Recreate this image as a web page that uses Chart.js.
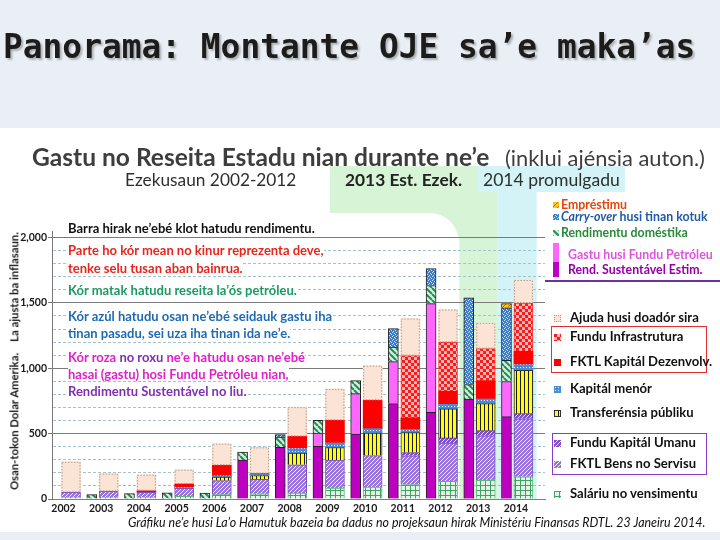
<!DOCTYPE html>
<html lang="tet">
<head>
<meta charset="UTF-8">
<title>Panorama: Montante OJE sa’e maka’as</title>
<script src="https://cdn.jsdelivr.net/npm/chart.js"></script>
<style>
  body { margin: 0; width: 720px; height: 540px; overflow: hidden; position: relative;
         background: #e9eff4; font-family: Lato, "Open Sans", sans-serif; }
  #panel { position: absolute; left: 0; top: 128px; width: 720px; height: 404px; background: #fff; }
  #wrap { position: absolute; left: 0; top: 0; width: 720px; height: 540px; }
  .t { position: absolute; white-space: nowrap; line-height: 1; transform: translateY(-50%); }
  .note { background: #fff; font-weight: bold; }
  .ico { position: absolute; width: 7px; height: 7px; }
  .box { position: absolute; box-sizing: border-box; border: 1.5px solid; }
</style>
</head>
<body>
<div id="panel"></div>
<div id="wrap"><canvas id="chart"></canvas></div>
<div id="texts"></div>

<script>
  // values, US$ millions
  const years = [2002, 2003, 2004, 2005, 2006, 2007, 2008, 2009, 2010, 2011, 2012, 2013, 2014];

  // expenditure bar, bottom to top
  const salary    = [15, 15, 15, 20, 33, 40, 46, 84, 92, 110, 135, 143, 170];
  const goods     = [36, 44, 36, 62, 107, 110, 216, 214, 240, 220, 292, 340, 443];
  const hcdf      = [null, null, null, null, null, null, null, null, null, 25, 40, 40, 40];
  const transfers = [null, null, null, null, 28, 30, 90, 96, 173, 153, 223, 207, 332];
  const minorCap  = [null, null, null, 6, 10, 8, 34, 34, 33, 23, 34, 35, 43];
  const devCap    = [null, null, 12, 27, 80, 7, 93, 174, 217, 89, 100, 141, 102];
  const infra     = [null, null, null, null, null, null, null, null, null, 477, 375, 244, 369];
  const donors    = [234, 135, 123, 109, 165, 200, 224, 240, 265, 283, 250, 197, 176];

  // revenue bar, bottom to top
  const esi       = [null, null, null, null, null, 298, 395, 402, 497, 730, 663, 765, 630];
  const excess    = [null, null, null, null, null, null, null, 103, 309, 321, 832, null, 269];
  const domestic  = [null, 33, 41, 48, 46, 60, 79, 96, 100, 112, 138, 110, 162];
  const carryOver = [null, null, null, null, null, null, 18, null, null, 141, 130, 663, 401];
  const loans     = [null, null, null, null, null, null, null, null, null, null, null, null, 32];

  const yTickValues = [0, 500, 1000, 1500, 2000];
  const yTickLabels = ['0', '500', '1,000', '1,500', '2,000'];

  const REV_OFF = -0.25, EXP_OFF = 0.2;

  const canvas = document.getElementById('chart');
  const cctx = canvas.getContext('2d');

  // small tiles for the hatched fills
  function tile(w, h, draw) {
    const c = document.createElement('canvas');
    c.width = w; c.height = h;
    draw(c.getContext('2d'));
    return { pattern: cctx.createPattern(c, 'repeat'), url: c.toDataURL() };
  }
  const pSalary = tile(5, 5, g => {
    g.fillStyle = '#e2f5e7'; g.fillRect(0, 0, 5, 5);
    g.fillStyle = '#3fa360'; g.fillRect(0, 0, 5, 1); g.fillRect(0, 0, 1, 5);
  });
  const pGoods = tile(4, 4, g => {
    g.fillStyle = '#9a74d8'; g.fillRect(0, 0, 4, 4);
    g.fillStyle = '#f3eefc';
    [[1,0],[0,1],[3,2],[2,3]].forEach(([x, y]) => g.fillRect(x, y, 1, 1));
  });
  const pHcdf = tile(4, 4, g => {
    g.fillStyle = '#8050c4'; g.fillRect(0, 0, 4, 4);
    g.fillStyle = '#e8dcf8';
    [[3,0],[2,1],[1,2],[0,3]].forEach(([x, y]) => g.fillRect(x, y, 1, 1));
  });
  const pTransfer = tile(4, 1, g => {
    g.fillStyle = '#ffff00'; g.fillRect(0, 0, 4, 1);
    g.fillStyle = '#1a1a1a'; g.fillRect(0, 0, 1, 1);
  });
  const pMinor = tile(3, 3, g => {
    g.fillStyle = '#4a8cd6'; g.fillRect(0, 0, 3, 3);
    g.fillStyle = '#e8f2fc'; g.fillRect(1, 1, 1, 1);
  });
  const pInfra = tile(6, 6, g => {
    g.fillStyle = '#ffb8b8'; g.fillRect(0, 0, 6, 6);
    g.fillStyle = '#ff1a1a'; g.fillRect(0, 0, 3, 3); g.fillRect(3, 3, 3, 3);
  });
  const pDomestic = tile(6, 6, g => {
    g.fillStyle = '#d6f0de'; g.fillRect(0, 0, 6, 6);
    g.strokeStyle = '#1f8f50'; g.lineWidth = 2;
    [-6, 0, 6].forEach(k => { g.beginPath(); g.moveTo(k, 0); g.lineTo(k + 6, 6); g.stroke(); });
  });
  const pCarry = tile(4, 4, g => {
    g.fillStyle = '#3b7ccb'; g.fillRect(0, 0, 4, 4);
    g.fillStyle = '#cfe3f8';
    [[0,0],[2,1],[1,3],[3,2]].forEach(([x, y]) => g.fillRect(x, y, 1, 1));
  });
  const pLoan = tile(5, 5, g => {
    g.fillStyle = '#ffc61a'; g.fillRect(0, 0, 5, 5);
    g.strokeStyle = '#b87800'; g.lineWidth = 1;
    [-5, 0, 5].forEach(k => { g.beginPath(); g.moveTo(k, 5); g.lineTo(k + 5, 0); g.stroke(); });
  });

  const ESI_COL = '#c000c0', EXCESS_COL = '#ff66ff', DEV_COL = '#ff0000', DONOR_COL = '#fbe4d5';

  function bars(label, values, offset, thick, fill, border) {
    return {
      label,
      data: years.map((yr, i) => ({ x: yr + offset, y: values[i] })),
      backgroundColor: fill,
      borderColor: border || 'rgba(0,0,0,0)',
      borderWidth: border ? 1 : 0,
      barThickness: thick
    };
  }

  const datasets = [
    bars('Saláriu no vensimentu', salary, EXP_OFF, 19, pSalary.pattern, '#5cb87a'),
    bars('FKTL Bens no Servisu', goods, EXP_OFF, 19, pGoods.pattern, '#7d4fc6'),
    bars('Fundu Kapitál Umanu', hcdf, EXP_OFF, 19, pHcdf.pattern, '#5f2ea8'),
    bars('Transferénsia públiku', transfers, EXP_OFF, 19, pTransfer.pattern, '#333'),
    bars('Kapitál menór', minorCap, EXP_OFF, 19, pMinor.pattern),
    bars('FKTL Kapitál Dezenvolv.', devCap, EXP_OFF, 19, DEV_COL),
    bars('Fundu Infrastrutura', infra, EXP_OFF, 19, pInfra.pattern, '#ff3030'),
    bars('Ajuda husi doadór sira', donors, EXP_OFF, 19, DONOR_COL),
    bars('Rend. Sustentável Estim.', esi, REV_OFF, 10, ESI_COL, '#222'),
    bars('Gastu husi Fundu Petróleu', excess, REV_OFF, 10, EXCESS_COL, '#222'),
    bars('Rendimentu doméstika', domestic, REV_OFF, 10, pDomestic.pattern, '#222'),
    bars('Carry-over husi tinan kotuk', carryOver, REV_OFF, 10, pCarry.pattern, '#222'),
    bars('Empréstimu', loans, REV_OFF, 10, pLoan.pattern, '#222')
  ];

  // light green / cyan bands behind 2013 and 2014
  const bands = {
    id: 'bands',
    beforeDraw(chart) {
      const { ctx, chartArea: a } = chart;
      const x = chart.scales.x;
      const l13 = x.getPixelForValue(2012.5), r13 = x.getPixelForValue(2013.52), r14 = x.getPixelForValue(2014.55);
      ctx.save();
      ctx.fillStyle = '#d8f4d6';
      ctx.beginPath();
      ctx.moveTo(330, 166); ctx.lineTo(478, 166); ctx.lineTo(478, 192); ctx.lineTo(r13, 192);
      ctx.lineTo(r13, a.bottom); ctx.lineTo(l13, a.bottom); ctx.lineTo(l13, 240);
      ctx.quadraticCurveTo(l13 - 6, 214, 430, 213); ctx.lineTo(330, 213);
      ctx.closePath(); ctx.fill();
      ctx.fillStyle = '#d3f3f7';
      ctx.fillRect(478, 166, 147, 26);
      ctx.fillRect(r13, 192, r14 - r13, a.bottom - 192);
      ctx.restore();
    }
  };

  // dotted outline round the donor segments
  const dottedDonors = {
    id: 'dottedDonors',
    afterDatasetsDraw(chart) {
      const i = chart.data.datasets.findIndex(d => d.label === 'Ajuda husi doadór sira');
      const ctx = chart.ctx;
      ctx.save();
      ctx.setLineDash([1.5, 1.5]);
      ctx.strokeStyle = '#b49c8a';
      ctx.lineWidth = 1;
      chart.getDatasetMeta(i).data.forEach(bar => {
        const { x, y, base, width } = bar.getProps(['x', 'y', 'base', 'width'], true);
        if (!isFinite(y)) return;
        ctx.strokeRect(x - width / 2 + 0.5, y + 0.5, width - 1, base - y - 1);
      });
      ctx.restore();
    }
  };

  const gridValues = [];
  for (let v = 0; v <= 2000; v += 100) gridValues.push(v);
  const major = v => v % 500 === 0;

  Chart.defaults.font.family = 'Lato';
  new Chart(canvas, {
    type: 'bar',
    data: { datasets },
    plugins: [bands, dottedDonors],
    options: {
      responsive: true,
      maintainAspectRatio: false,
      animation: false,
      layout: { padding: { left: 0, top: 231, right: 175, bottom: 0 } },
      plugins: { legend: { display: false }, tooltip: { enabled: false } },
      scales: {
        x: {
          type: 'linear',
          min: 2001.695,
          max: 2014.772,
          offset: false,
          stacked: true,
          grid: { display: false, drawTicks: false, offset: false },
          border: { display: true, color: '#7f7f7f' },
          afterBuildTicks: s => { s.ticks = years.map(v => ({ value: v })); },
          afterFit: s => { s.height = 41; },
          ticks: {
            autoSkip: false, maxRotation: 0, padding: 3, color: '#1a1a1a',
            font: { size: 10.5, weight: 'bold' },
            callback: v => String(v)
          }
        },
        y: {
          min: 0,
          max: 2050,
          stacked: true,
          afterBuildTicks: s => { s.ticks = gridValues.map(v => ({ value: v })); },
          afterFit: s => { s.width = 52; },
          grid: {
            color: c => major(c.tick.value) ? '#7a7a7a' : '#a3c4cf',
            tickColor: c => major(c.tick.value) ? '#7a7a7a' : 'rgba(0,0,0,0)',
            tickLength: 4,
            lineWidth: 1
          },
          border: {
            display: true, color: '#7a7a7a',
            dash: c => (c.tick && !major(c.tick.value)) ? [3, 2] : []
          },
          ticks: {
            autoSkip: false, padding: 1, color: '#1a1a1a',
            font: { size: 10.5, weight: 'bold' },
            callback: v => { const k = yTickValues.indexOf(v); return k < 0 ? '' : yTickLabels[k]; }
          }
        }
      }
    }
  });

  // ---- text laid over the canvas ----
  const texts = document.getElementById('texts');
  function put(html, left, cy, size, style) {
    const d = document.createElement('div');
    d.className = 't';
    d.innerHTML = html;
    Object.assign(d.style, { left: left + 'px', top: cy + 'px', fontSize: size + 'px' }, style || {});
    texts.appendChild(d);
    return d;
  }
  function fitSize(html, width, style) {
    const d = put(html, 0, -100, 20, style);
    const s = 20 * width / d.offsetWidth;
    d.remove();
    return s;
  }
  function fit(html, left, cy, width, style) {
    return put(html, left, cy, fitSize(html, width, style), style);
  }

  fit('Panorama: Montante OJE sa’e maka’as', 3, 47, 692, {
    fontFamily: '"DejaVu Sans Mono", monospace', fontWeight: 'bold', color: '#1c1c1c',
    textShadow: '2px 2px 2px rgba(0,0,0,0.25)'
  });
  fit('Gastu no Reseita Estadu nian durante ne’e', 32, 157, 458, { fontWeight: 'bold', color: '#3d3d3d' });
  fit('(inklui ajénsia auton.)', 505, 158, 200, { color: '#3d3d3d' });
  fit('Ezekusaun 2002-2012', 125, 180, 172, { color: '#2e2e2e' });
  fit('2013 Est. Ezek.', 345, 180, 117, { fontWeight: 'bold', color: '#222' });
  fit('2014 promulgadu', 483, 180, 137, { color: '#2e2e2e' });

  // notes inside the plot
  const RED = '#e8251d', GREEN = '#1d9a62', BLUE = '#1f6bb3', MAG = '#e020c8', PURP = '#7f2fb0';
  const noteSize = fitSize('Kór azúl hatudu osan ne’ebé seidauk gastu iha', 264, { fontWeight: 'bold' });
  const notes = [
    ['Barra hirak ne’ebé klot hatudu rendimentu.', 228, '#111'],
    ['Parte ho kór mean no kinur reprezenta deve,', 250, RED],
    ['tenke selu tusan aban bainrua.', 268, RED],
    ['Kór matak hatudu reseita la’ós petróleu.', 290, GREEN],
    ['Kór azúl hatudu osan ne’ebé seidauk gastu iha', 316, BLUE],
    ['tinan pasadu, sei uza iha tinan ida ne’e.', 333, BLUE],
    ['Kór roza <span style="color:' + PURP + '">no roxu</span> ne’e hatudu osan ne’ebé', 357, MAG],
    ['hasai (gastu) hosi Fundu Petróleu nian,', 374, MAG],
    ['Rendimentu Sustentável no liu.', 391, PURP]
  ];
  notes.forEach(([h, cy, col]) => put(h, 68, cy, noteSize, { color: col }).classList.add('note'));

  // y axis title
  const yTitle = 'Osan-tokon Dolar Amerika.&nbsp;&nbsp;&nbsp; La ajusta ba inflasaun.';
  const yt = put(yTitle, 0, 0, fitSize(yTitle, 258, { fontWeight: 'bold' }), { fontWeight: 'bold', color: '#1a1a1a' });
  yt.style.left = '14px'; yt.style.top = '361px';
  yt.style.transform = 'translate(-50%, -50%) rotate(-90deg)';

  // legend, revenue part
  function icon(left, top, w, h, fill, extra) {
    const d = document.createElement('div');
    d.className = 'ico';
    Object.assign(d.style, { left: left + 'px', top: top + 'px', width: w + 'px', height: h + 'px' }, extra || {});
    if (fill.startsWith('data:')) d.style.backgroundImage = 'url(' + fill + ')';
    else d.style.background = fill;
    texts.appendChild(d);
  }
  const revSize = fitSize('<i>Carry-over</i> husi tinan kotuk', 147, { fontWeight: 'bold' });
  [
    ['Empréstimu', 205, 561, '#e8440c', pLoan.url, 202, 6],
    ['<i>Carry-over</i> husi tinan kotuk', 217, 561, '#1f5aa6', pCarry.url, 214, 6],
    ['Rendimentu doméstika', 233, 561, '#2a8a3a', pDomestic.url, 230, 6],
    ['Gastu husi Fundu Petróleu', 255, 568, '#e052e0', EXCESS_COL, 243, 19],
    ['Rend. Sustentável Estim.', 270, 568, '#9600a6', ESI_COL, 262, 15]
  ].forEach(([h, cy, left, col, fill, it, ih]) => {
    put(h, left, cy, revSize, { fontWeight: 'bold', color: col });
    icon(553, it, 6, ih, fill);
  });
  const rule = document.createElement('div');
  Object.assign(rule.style, { position: 'absolute', left: '545px', top: '280px', width: '175px', height: '1.5px', background: '#7030a0' });
  texts.appendChild(rule);

  // legend, expenditure part
  const box1 = document.createElement('div'); box1.className = 'box';
  Object.assign(box1.style, { left: '551px', top: '326px', width: '156px', height: '47px', borderColor: '#e03030' });
  const box2 = document.createElement('div'); box2.className = 'box';
  Object.assign(box2.style, { left: '552px', top: '433px', width: '155px', height: '42px', borderColor: '#8a3cc8' });
  texts.appendChild(box1); texts.appendChild(box2);

  const expSize = fitSize('Ajuda husi doadór sira', 129, { fontWeight: 'bold' });
  [
    ['Ajuda husi doadór sira', 318, DONOR_COL, { outline: '1px dotted #b49c8a', outlineOffset: '-1px' }],
    ['Fundu Infrastrutura', 337, pInfra.url],
    ['FKTL Kapitál Dezenvolv.', 362, DEV_COL],
    ['Kapitál menór', 389, pMinor.url],
    ['Transferénsia públiku', 413, pTransfer.url, { outline: '1px solid #333', outlineOffset: '-1px' }],
    ['Fundu Kapitál Umanu', 443, pHcdf.url],
    ['FKTL Bens no Servisu', 464, pGoods.url],
    ['Saláriu no vensimentu', 494, pSalary.url]
  ].forEach(([h, cy, fill, extra]) => {
    put(h, 570, cy, expSize, { fontWeight: 'bold', color: '#111' });
    icon(554, cy - 3.5, 7, 7, fill, extra);
  });

  fit('Gráfiku ne’e husi La’o Hamutuk bazeia ba dadus no projeksaun hirak Ministériu Finansas RDTL. 23 Janeiru 2014.',
    128, 523, 578, { fontStyle: 'italic', color: '#111' });
</script>
</body>
</html>
